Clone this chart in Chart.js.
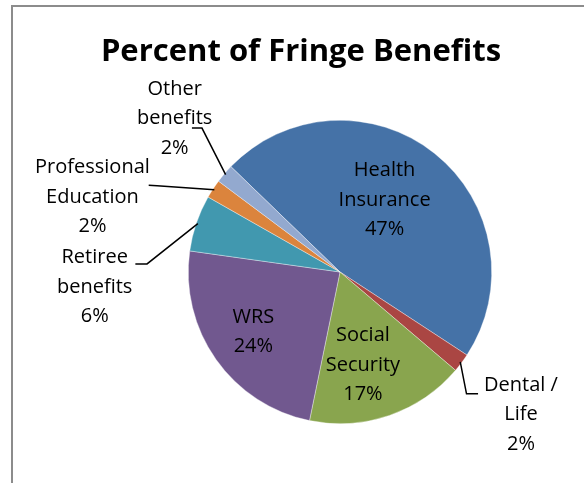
<!DOCTYPE html>
<html>
<head>
<meta charset="utf-8">
<script src="https://cdn.jsdelivr.net/npm/chart.js@4.4.0/dist/chart.umd.min.js"></script>
<style>
  html, body { margin: 0; padding: 0; background: #fff; overflow: hidden; }
  #frame { position: absolute; left: 11px; top: 5px; width: 620px; height: 520px; border: 2px solid #8c8c8c; }
  #wrap { position: absolute; left: 0; top: 0; width: 584px; height: 483px; }
</style>
</head>
<body>
<div id="frame"></div>
<div id="wrap"><canvas id="pie"></canvas></div>
<script>
// fringe benefit shares, in percent
var categories = ["Health Insurance", "Dental / Life", "Social Security", "WRS", "Retiree benefits", "Professional Education", "Other benefits"];
var values = [47, 2, 17, 24, 6, 2, 2];
var labelLines = [["Health", "Insurance"], ["Dental /", "Life"], ["Social", "Security"], ["WRS"], ["Retiree", "benefits"], ["Professional", "Education"], ["Other", "benefits"]];
var colors = ["#4572A7", "#AA4643", "#89A54E", "#71588F", "#4198AF", "#DB843D", "#93A9CF"];
var chartTitle = "Percent of Fringe Benefits";

// where each label block sits, in radius units from the pie centre
// elbow = the two points of the leader line next to the text (outside labels only)
var labelPos = [
  { x: 0.294, y: -0.474 },
  { x: 1.193, y: 0.941, elbow: [0.910, 0.803, 0.834, 0.803] },
  { x: 0.151, y: 0.612 },
  { x: -0.571, y: 0.395 },
  { x: -1.617, y: 0.099, elbow: [-1.349, -0.053, -1.272, -0.053] },
  { x: -1.632, y: -0.493, elbow: [-1.261, -0.572, -1.206, -0.569] },
  { x: -1.09, y: -1.013, elbow: [-0.976, -0.949, -0.910, -0.949] }
];

var FONT = "'Open Sans', sans-serif";
var LINE_H = 29.5;

var sliceLabels = {
  id: 'sliceLabels',
  afterDatasetsDraw: function(chart) {
    var ctx = chart.ctx;
    var arcs = chart.getDatasetMeta(0).data;
    ctx.save();

    // title sits a little left of the pie centre
    ctx.fillStyle = '#000';
    ctx.font = 'bold 31px ' + FONT;
    ctx.textAlign = 'center';
    ctx.textBaseline = 'alphabetic';
    ctx.fillText(chartTitle, 301, 61);

    arcs.forEach(function(arc, i) {
      var p = arc.getProps(['x', 'y', 'startAngle', 'endAngle', 'outerRadius'], true);
      var r = p.outerRadius;
      var pos = labelPos[i];
      var lines = labelLines[i].concat([values[i] + '%']);

      if (pos.elbow) {
        var mid = (p.startAngle + p.endAngle) / 2;
        ctx.strokeStyle = '#000';
        ctx.lineWidth = 1.5;
        ctx.beginPath();
        ctx.moveTo(p.x + pos.elbow[0] * r, p.y + pos.elbow[1] * r);
        ctx.lineTo(p.x + pos.elbow[2] * r, p.y + pos.elbow[3] * r);
        ctx.lineTo(p.x + Math.cos(mid) * r * 0.99, p.y + Math.sin(mid) * r * 0.99);
        ctx.stroke();
      }

      ctx.fillStyle = '#000';
      ctx.font = '20px ' + FONT;
      ctx.textAlign = 'center';
      ctx.textBaseline = 'middle';
      var cx = p.x + pos.x * r;
      var cy = p.y + pos.y * r - (lines.length - 1) * LINE_H / 2;
      lines.forEach(function(t, k) {
        ctx.fillText(t, cx, cy + k * LINE_H);
      });
    });
    ctx.restore();
  }
};

new Chart(document.getElementById('pie'), {
  type: 'pie',
  data: {
    labels: categories,
    datasets: [{
      data: values,
      backgroundColor: colors,
      borderColor: 'rgba(255,255,255,0.6)',
      borderWidth: 0.6
    }]
  },
  options: {
    responsive: true,
    maintainAspectRatio: false,
    animation: false,
    rotation: -46,
    layout: { padding: { left: 188, right: 92, top: 120, bottom: 59 } },
    plugins: {
      legend: { display: false },
      tooltip: { enabled: false },
      title: { display: false }
    }
  },
  plugins: [sliceLabels]
});
</script>
</body>
</html>
